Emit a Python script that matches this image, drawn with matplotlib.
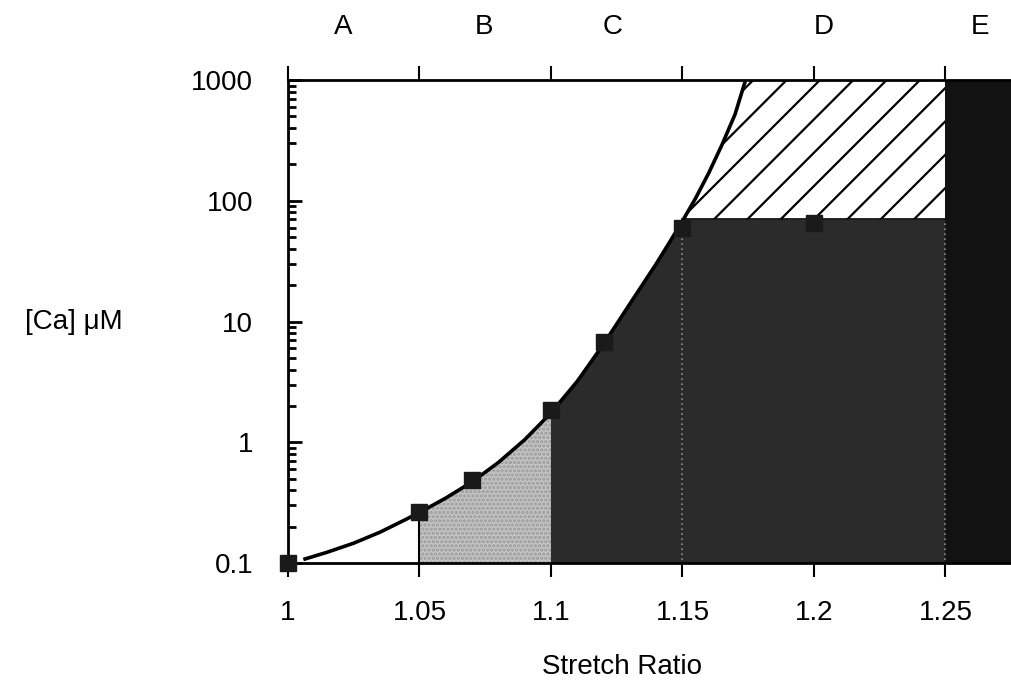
# Calcium concentration vs stretch ratio, zones A-E

import numpy as np
import matplotlib
matplotlib.use('Agg')
import matplotlib.pyplot as plt

# measured points (squares)
stretch_pts = [1.0, 1.05, 1.07, 1.10, 1.12, 1.15, 1.20]
ca_pts = [0.1, 0.265, 0.485, 1.85, 6.8, 60, 66]

# smooth curve
curve_x = [1.0065, 1.015, 1.025, 1.035, 1.044, 1.05, 1.06, 1.07, 1.08, 1.09, 1.10,
           1.11, 1.12, 1.13, 1.14, 1.145, 1.15, 1.155, 1.16, 1.165, 1.17, 1.174]
curve_y = [0.108, 0.123, 0.146, 0.18, 0.225, 0.262, 0.345, 0.47, 0.68, 1.05, 1.75,
           3.2, 6.5, 14, 30, 45, 68, 105, 170, 290, 520, 1000]

# zone boundaries
b_start = 1.05
c_start = 1.10
d_start = 1.15
e_start = 1.25
plateau = 70
y_min, y_max = 0.1, 1000
x_min, x_max = 1.0, 1.2753

zone_labels = ['A', 'B', 'C', 'D', 'E']
zone_label_x = [1.0209, 1.0745, 1.1236, 1.2038, 1.263]

x_ticks = [1, 1.05, 1.1, 1.15, 1.2, 1.25]
x_tick_labels = ['1', '1.05', '1.1', '1.15', '1.2', '1.25']
y_ticks = [0.1, 1, 10, 100, 1000]
y_tick_labels = ['0.1', '1', '10', '100', '1000']

plt.rcParams['font.family'] = ['Liberation Sans', 'DejaVu Sans']
plt.rcParams['hatch.linewidth'] = 1.6

fig = plt.figure(figsize=(10.12, 6.88), dpi=100)
ax = fig.add_axes([288 / 1012, 1 - 563 / 688, 1 - 288 / 1012, (563 - 80) / 688])
ax.set_yscale('log')
ax.set_xlim(x_min, x_max)
ax.set_ylim(y_min, y_max)

cx = np.array(curve_x)
cy = np.array(curve_y)

# zone B: light stipple under the curve
m = (cx >= b_start) & (cx <= c_start)
ax.fill(np.r_[b_start, cx[m], c_start], np.r_[y_min, cy[m], y_min],
        facecolor='#c4c4c4', edgecolor='#9a9a9a', hatch='....', lw=0, zorder=1)
ax.plot([b_start, b_start], [y_min, cy[cx == b_start][0]], color='black', lw=1.5, zorder=2)

# zone C: dark stipple, capped at the plateau
m = (cx >= c_start) & (cy < plateau)
ax.fill(np.r_[c_start, cx[m], d_start, e_start, e_start],
        np.r_[y_min, cy[m], plateau, plateau, y_min],
        facecolor='#2b2b2b', edgecolor='none', zorder=1)
for xv in [d_start, e_start]:
    ax.plot([xv, xv], [y_min * 1.05, plateau], color='#8a8a8a', lw=1.2, ls=(0, (1, 2)), zorder=2)

# zone D: hatched above the plateau
m = cy > plateau
ax.fill(np.r_[d_start, cx[m], e_start, e_start],
        np.r_[plateau, cy[m], y_max, plateau],
        facecolor='white', edgecolor='black', hatch='/', lw=0, zorder=1)
ax.plot([d_start, e_start], [plateau, plateau], color='black', lw=1.2, zorder=2)

# zone E: solid black
ax.axvspan(e_start, x_max, color='#121212', lw=0, zorder=1)

ax.plot(curve_x, curve_y, color='black', lw=2.6, zorder=3)
ax.plot(stretch_pts, ca_pts, ls='none', marker='s', ms=11, color='#1a1a1a', zorder=4, clip_on=False)

for s in ['left', 'top', 'bottom']:
    ax.spines[s].set_linewidth(2.0)
ax.spines['right'].set_visible(False)

ax.set_xticks(x_ticks)
ax.set_xticklabels(x_tick_labels, fontsize=20)
ax.set_yticks(y_ticks)
ax.set_yticklabels(y_tick_labels, fontsize=20)
ax.tick_params(axis='x', which='both', direction='out', length=10, width=1.5,
               top=True, bottom=True, pad=17)
ax.tick_params(axis='y', which='major', direction='in', length=10, width=2, pad=25)
ax.tick_params(axis='y', which='minor', direction='in', length=6, width=2)

ax.set_xlabel('Stretch Ratio', fontsize=20)
ax.xaxis.set_label_coords((622 - 288) / 724, -(654 - 563) / 483)
fig.text(25 / 1012, 1 - 322 / 688, '[Ca] μM', fontsize=20, ha='left', va='center')

trans = matplotlib.transforms.blended_transform_factory(ax.transData, fig.transFigure)
for lab, xv in zip(zone_labels, zone_label_x):
    ax.text(xv, 1 - 27 / 688, lab, transform=trans, fontsize=20, ha='center', va='center')

fig.savefig('out.png', dpi=100)
